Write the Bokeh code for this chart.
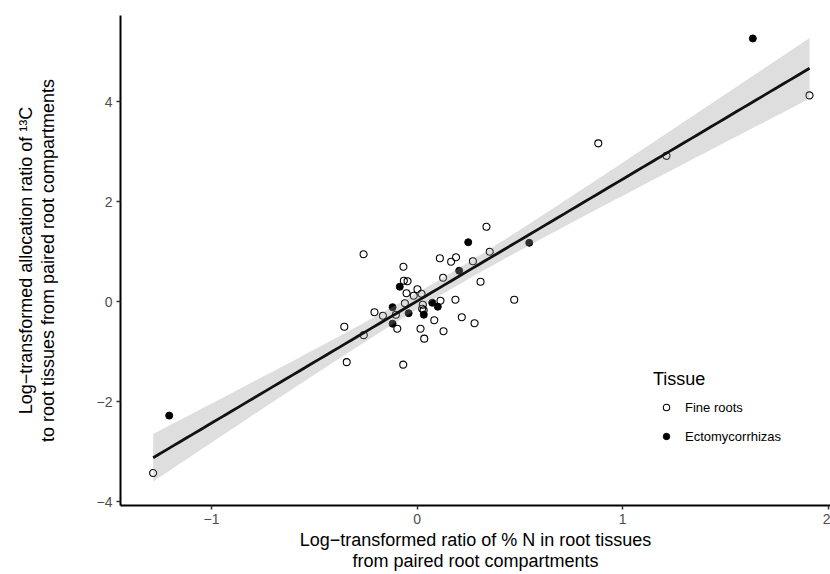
import numpy as np
from bokeh.plotting import figure
from bokeh.models import FixedTicker, Legend, LegendItem, Range1d
from bokeh.embed import file_html
from bokeh.resources import INLINE

# Fine roots (open circles)
fine_x = [0.338, -0.260, 0.111, 0.166, 0.190, 0.272, 0.354, -0.066, 0.127, -0.064,
          -0.046, 0.309, 0.002, -0.051, -0.016, 0.022, 0.187, 0.473, 0.114, -0.059,
          0.028, 0.025, 0.032, -0.103, -0.207, -0.166, -0.096, 0.084, 0.218, 0.280,
          0.017, 0.129, 0.035, -0.354, -0.259, -0.342, -0.067, -1.284, 0.882, 1.214,
          1.910]
fine_y = [1.50, 0.95, 0.87, 0.80, 0.89, 0.81, 1.00, 0.70, 0.48, 0.42,
          0.41, 0.40, 0.25, 0.17, 0.12, 0.16, 0.04, 0.04, 0.02, -0.03,
          -0.06, -0.14, -0.17, -0.26, -0.21, -0.28, -0.54, -0.37, -0.31, -0.43,
          -0.54, -0.59, -0.74, -0.50, -0.67, -1.21, -1.26, -3.43, 3.17, 2.92,
          4.13]

# Ectomycorrhizas (filled circles)
ecto_x = [0.249, 0.546, 0.205, -0.084, 0.074, 0.101, 0.033, -0.119, -0.041, -0.119,
          -1.206, 1.634]
ecto_y = [1.19, 1.18, 0.62, 0.30, -0.02, -0.10, -0.26, -0.11, -0.23, -0.44,
          -2.28, 5.27]

x_ticks = [-1, 0, 1, 2]
x_tick_labels = ["\u22121", "0", "1", "2"]
y_ticks = [-4, -2, 0, 2, 4]
y_tick_labels = ["\u22124", "\u22122", "0", "2", "4"]
t_crit = 2.008  # 95% two-sided, df = n - 2

# linear fit with 95% confidence band
ax = np.array(fine_x + ecto_x)
ay = np.array(fine_y + ecto_y)
n = len(ax)
xbar, ybar = ax.mean(), ay.mean()
sxx = ((ax - xbar) ** 2).sum()
slope = ((ax - xbar) * (ay - ybar)).sum() / sxx
icpt = ybar - slope * xbar
resid = ay - (icpt + slope * ax)
s = np.sqrt((resid ** 2).sum() / (n - 2))
xg = np.linspace(ax.min(), ax.max(), 100)
yg = icpt + slope * xg
half = t_crit * s * np.sqrt(1.0 / n + (xg - xbar) ** 2 / sxx)

FONT = "Liberation Sans"

p = figure(width=830, height=574, output_backend="svg", toolbar_location=None,
           title=None,
           x_range=Range1d(-1.443, 2.012), y_range=Range1d(-4.08, 5.73),
           min_border_left=120, min_border_right=0, min_border_top=15,
           min_border_bottom=65)
p.background_fill_color = "white"
p.border_fill_color = "white"
p.outline_line_color = None
p.grid.visible = False

r_fine = p.scatter(fine_x, fine_y, marker="circle", size=7, fill_alpha=0,
                   line_color="black", line_width=1.1)
r_ecto = p.scatter(ecto_x, ecto_y, marker="circle", size=7, fill_color="black",
                   line_color="black", line_width=1.0)
p.varea(x=xg, y1=yg - half, y2=yg + half, fill_color="#999999", fill_alpha=0.32)
p.line(xg, yg, line_color="#111111", line_width=2.8)

p.xaxis.ticker = FixedTicker(ticks=x_ticks)
p.yaxis.ticker = FixedTicker(ticks=y_ticks)
p.xaxis.major_label_overrides = dict(zip(x_ticks, x_tick_labels))
p.yaxis.major_label_overrides = dict(zip(y_ticks, y_tick_labels))

for axis in (p.xaxis[0], p.yaxis[0]):
    axis.minor_tick_line_color = None
    axis.major_tick_in = 0
    axis.major_tick_out = 4
    axis.major_tick_line_color = "#333333"
    axis.major_tick_line_width = 1.5
    axis.axis_line_color = "black"
    axis.axis_line_width = 2
    axis.major_label_text_font = FONT
    axis.major_label_text_font_size = "14px"
    axis.major_label_text_color = "#4d4d4d"
    axis.axis_label_text_font = FONT
    axis.axis_label_text_font_size = "18px"
    axis.axis_label_text_font_style = "normal"
    axis.axis_label_text_color = "black"
    axis.axis_label_text_line_height = 1.08

p.xaxis.axis_label = "Log\u2212transformed ratio of % N in root tissues\nfrom paired root compartments"
p.yaxis.axis_label = "Log\u2212transformed allocation ratio of \u00b9\u00b3C\nto root tissues from paired root compartments"
p.xaxis.major_label_standoff = 4
p.xaxis.axis_label_standoff = 3
p.yaxis.major_label_standoff = 4
p.yaxis.axis_label_standoff = 36

legend = Legend(items=[LegendItem(label="Fine roots", renderers=[r_fine]),
                       LegendItem(label="Ectomycorrhizas", renderers=[r_ecto])],
                location=(533, 60), title="Tissue",
                title_text_font=FONT, title_text_font_size="18px",
                title_text_color="black", title_text_font_style="normal",
                title_standoff=8,
                label_text_font=FONT, label_text_font_size="13px",
                label_text_color="black",
                glyph_width=26, glyph_height=16, label_height=18,
                label_standoff=6, spacing=11, padding=0, margin=0,
                border_line_color=None, background_fill_alpha=0)
p.add_layout(legend)

open("out.html", "w").write(file_html(p, INLINE))
